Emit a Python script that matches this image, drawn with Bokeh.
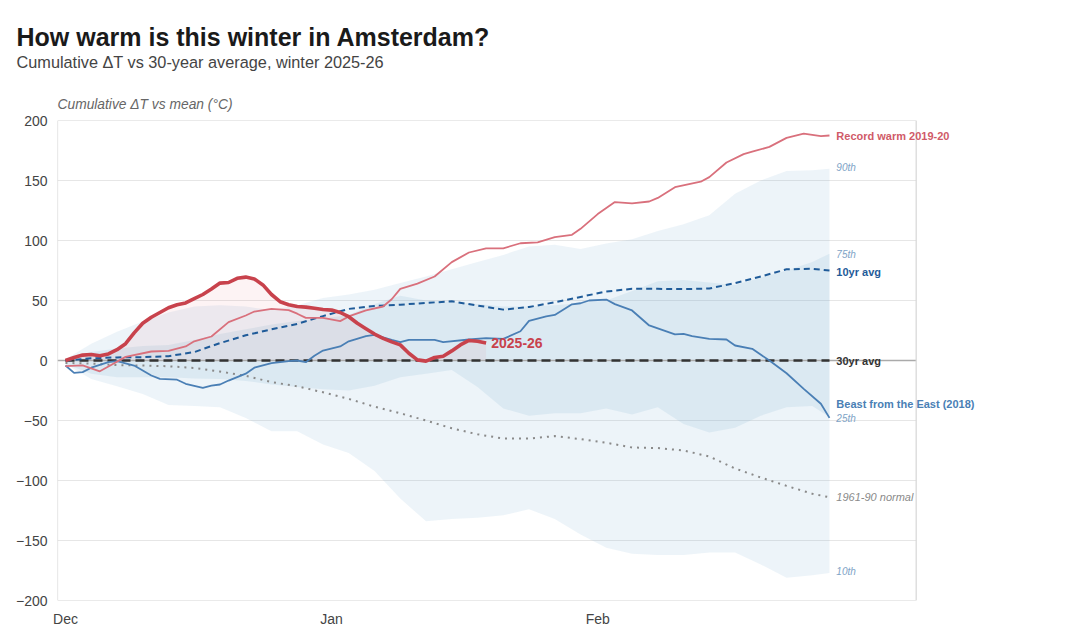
from bokeh.plotting import figure
from bokeh.models import Range1d, FixedTicker, Title, Label
from bokeh.embed import file_html
from bokeh.resources import INLINE

# ---------------- data ----------------
days = list(range(0, 88, 3)) + [89]          # days since 1 Dec

p10 = [-3, -15.5, -21.5, -28, -37, -38, -39, -48, -59, -59, -70, -77, -92, -115, -134, -132,
       -131, -129, -124, -132, -145, -156, -161, -162, -162, -160, -160, -170, -181, -179, -177]
p25 = [-3, -11, -14, -14, -14, -15, -15.5, -17, -20, -22, -24, -25, -21, -14, -11, -8,
       -22, -40, -46, -44, -44, -40, -45, -39, -53, -60, -56, -46, -39, -38, -47]
p75 = [1, 7, 10, 12, 13, 17, 22, 26, 30, 33, 35, 38, 47, 54, 50, 49,
       47, 45, 45, 46, 48, 50, 58, 66, 67, 65, 63, 69, 75, 82, 89]
p90 = [1, 14, 24, 32.5, 40, 45, 46, 45, 42, 46, 52, 55, 59, 64.5, 70, 76,
       82, 88, 95, 96.5, 93, 97.5, 101, 108, 113.5, 121, 139, 150, 158, 158.5, 159.7]

avg10 = [0, 1.8, 2.6, 2.8, 3.6, 7, 14.5, 21, 26, 30.5, 37, 43, 45.5, 46.5, 48, 49.3,
         45.8, 42.4, 44.6, 48.5, 53, 57.5, 59.7, 59.7, 59.5, 60, 64.5, 70, 76, 76.4, 75]
avg30 = [0.0] * len(days)
normal_6190 = [-2, -2.6, -3.8, -4.2, -4.8, -6.2, -9.2, -12.8, -18, -21.5, -26.5, -32, -38.5, -44, -50, -56.5,
               -61.5, -65, -65, -63, -65.5, -68.5, -72.5, -73, -75, -80, -90, -97.5, -104.5, -111, -114]

record_days = [0, 2, 4, 5, 7, 10, 12, 14, 15, 17, 19, 21, 22, 24, 26, 27, 28, 30, 32, 33, 35, 37, 38,
               39, 41, 43, 45, 47, 49, 51, 53, 55, 57, 59, 60, 62, 64, 66, 68, 69, 71, 74, 75, 77, 79,
               80, 82, 84, 86, 88, 89]
record_1920 = [-4.7, -4, -9, -5, 3, 7.5, 8, 11.7, 16, 20, 32, 37.5, 40.8, 43, 42, 39, 35.5, 35.5, 32.8,
               36.7, 41.7, 45, 51, 59.7, 64, 70, 82, 90, 93.5, 93.5, 97.7, 98.5, 102.8, 104.7, 109.7,
               122, 132, 131, 132.5, 135.5, 144.4, 149, 152.8, 165, 172, 174, 178, 185.5, 189, 187, 187.5]

beast_days = [0, 1, 2, 3, 5, 6, 8, 10, 11, 13, 14, 16, 17, 18, 19, 21, 22, 24, 26, 27, 28, 29, 30, 32,
              33, 35, 36, 38, 39, 40, 43, 44, 47, 49, 51, 53, 54, 56, 57, 59, 60, 61, 63, 64, 66, 68,
              71, 72, 73, 75, 77, 78, 80, 82, 84, 86, 88, 89]
beast_2018 = [-4.2, -10.3, -9.7, -6, -1.4, -0.5, -4.2, -12.5, -15.3, -16, -19.4, -22.8, -21, -20, -16.7,
              -11, -6, -2.2, -0.5, 0, -1.4, 4, 8.3, 11.7, 16, 20.3, 21.4, 17.2, 15.3, 17.2, 17.2, 15.3,
              17.5, 18.6, 18, 24.4, 33, 36.7, 38, 46.8, 47.7, 50, 50.8, 47, 41.7, 29.2, 21.7, 22.2, 20.3,
              18, 17.5, 12.5, 9.7, 0, -10.6, -23.6, -36, -47.8]

cur_days = list(range(0, 50))
cur_vals = [0, 2.5, 4.5, 5, 4, 5.5, 9, 14, 23, 31, 36, 40, 44, 46.5, 48, 51.5, 55, 59.5, 64.5, 65,
            68.5, 69.5, 68, 63, 55, 49, 46.5, 45, 44.5, 43.5, 42.5, 42, 40, 36.5, 31, 26.5, 22, 18.5,
            15.5, 13, 6, 0.5, -0.5, 2.5, 3.6, 8, 13, 16.7, 16, 14.5]

x_ticks = [0, 31, 62]
x_tick_labels = ["Dec", "Jan", "Feb"]
y_ticks = [-200, -150, -100, -50, 0, 50, 100, 150, 200]

# ---------------- style ----------------
FONT = "Liberation Sans"
RED = "#c8424c"
REC = "#d9707c"
BLUE = "#4a7fb5"
NAVY = "#1f5b99"
PCT = "#7ea3c6"
BAND = "#6fa8cc"
GRID = "#e6e6e6"

X_MIN, X_MAX = -0.93, 99.1      # visible chart box (days)
Y_MIN, Y_MAX = -200, 200
X_END = 117.66                   # extra room on the right for end labels

p = figure(width=1075, height=636,
           x_range=Range1d(X_MIN, X_END), y_range=Range1d(Y_MIN, Y_MAX),
           output_backend="svg", toolbar_location=None, title=None,
           min_border_left=57, min_border_right=0, min_border_bottom=36, min_border_top=120)
p.background_fill_color = "white"
p.border_fill_color = "white"
p.outline_line_color = None

for ax in (p.xaxis[0], p.yaxis[0]):
    ax.axis_line_color = None
    ax.major_tick_line_color = None
    ax.minor_tick_line_color = None
    ax.major_tick_out = 0
    ax.minor_tick_out = 0
    ax.major_label_text_font = FONT
    ax.major_label_text_font_size = "14px"
    ax.major_label_text_color = "#444444"
p.xaxis.ticker = FixedTicker(ticks=x_ticks)
p.xaxis.major_label_overrides = {t: l for t, l in zip(x_ticks, x_tick_labels)}
p.xaxis.major_label_standoff = 10
p.yaxis.ticker = FixedTicker(ticks=y_ticks)
p.yaxis.major_label_overrides = {t: (str(t) if t >= 0 else "\u2212" + str(-t)) for t in y_ticks}
p.yaxis.major_label_standoff = 10
p.xgrid.grid_line_color = None
p.ygrid.grid_line_color = None

# grid lines limited to the chart box
inner = [t for t in y_ticks if Y_MIN < t < Y_MAX]
p.segment(x0=[X_MIN] * len(inner), x1=[X_MAX] * len(inner), y0=inner, y1=inner,
          line_color=GRID, line_width=1.2)

# bands
p.varea(x=days, y1=p10, y2=p90, fill_color=BAND, fill_alpha=0.12)
p.varea(x=days, y1=p25, y2=p75, fill_color=BAND, fill_alpha=0.14)
# excess fill for current season
p.varea(x=cur_days, y1=[0.0] * len(cur_days), y2=cur_vals, fill_color="#e0505e", fill_alpha=0.07)

# zero reference line across the box
p.segment(x0=[X_MIN], x1=[X_MAX], y0=[0], y1=[0], line_color="#aaaaaa", line_width=1.5)

p.line(days, normal_6190, line_color="#8a8a8a", line_width=2, line_dash="2 5")
p.line(days, avg30, line_color="#333333", line_width=2.6, line_dash="9 5")
p.line(days, avg10, line_color=NAVY, line_width=2, line_dash="6 4")
p.line(beast_days, beast_2018, line_color=BLUE, line_width=1.8)
p.line(record_days, record_1920, line_color=REC, line_width=1.8)
p.line(cur_days, cur_vals, line_color=RED, line_width=3.6)

# chart box outline
p.quad(left=[X_MIN], right=[X_MAX], bottom=[Y_MIN], top=[Y_MAX],
       fill_color=None, line_color="#d6d6d6", line_width=1.2)

# end labels
lx = 89.8
def lab(y, text, color, size="11px", style="bold", x=lx):
    p.add_layout(Label(x=x, y=y, text=text, text_color=color, text_font=FONT,
                       text_font_size=size, text_font_style=style,
                       text_baseline="middle", text_align="left"))

lab(187.5, "Record warm 2019-20", "#d05a68")
lab(161, "90th", PCT, "10px", "italic")
lab(88, "75th", PCT, "10px", "italic")
lab(74, "10yr avg", NAVY)
lab(0, "30yr avg", "#333333")
lab(-36, "Beast from the East (2018)", BLUE)
lab(-48, "25th", PCT, "10px", "italic")
lab(-114, "1961-90 normal", "#8a8a8a", "11px", "italic")
lab(-176, "10th", PCT, "10px", "italic")
lab(15, "2025-26", RED, "14px", "bold", x=49.6)

# titles (first added = closest to the plot)
p.add_layout(Title(text="Cumulative \u0394T vs mean (\u00b0C)", align="left", text_font=FONT,
                   text_font_size="13.8px", text_font_style="italic", text_color="#666666",
                   standoff=18, vertical_align="bottom"), "above")
p.add_layout(Title(text=" ", align="left", text_font=FONT, text_font_size="1px",
                   standoff=12), "above")
p.add_layout(Title(text="Cumulative \u0394T vs 30-year average, winter 2025-26", align="left",
                   offset=-41, text_font=FONT, text_font_size="16.3px", text_font_style="normal",
                   text_color="#444444", standoff=0, vertical_align="bottom"), "above")
p.add_layout(Title(text="How warm is this winter in Amsterdam?", align="left", offset=-41,
                   text_font=FONT, text_font_size="25px", text_font_style="bold",
                   text_color="#1a1a1a", standoff=0, vertical_align="bottom"), "above")

open("out.html", "w").write(file_html(p, INLINE))
